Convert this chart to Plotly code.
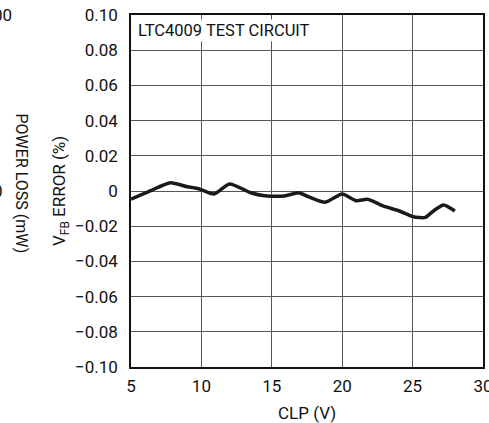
import plotly.graph_objects as go

# values
clp_v = [5.0, 6.4, 7.8, 9.0, 9.8, 10.9, 12.0, 13.5, 14.5, 15.9, 16.9, 17.6,
         18.8, 20.0, 21.0, 21.8, 22.9, 24.1, 25.05, 25.9, 26.5, 27.2, 28.0]
vfb_error = [-0.0047, 0.0002, 0.0047, 0.0024, 0.0013, -0.0017, 0.0040, -0.0010,
             -0.0027, -0.0028, -0.0010, -0.0032, -0.0064, -0.0017, -0.0055,
             -0.0047, -0.0085, -0.0115, -0.0146, -0.0150, -0.0112, -0.0080, -0.0114]

x_ticks = [5, 10, 15, 20, 25, 30]
y_ticks = [0.10, 0.08, 0.06, 0.04, 0.02, 0, -0.02, -0.04, -0.06, -0.08, -0.10]
y_tick_text = ["0.10", "0.08", "0.06", "0.04", "0.02", "0", "\u22120.02",
               "\u22120.04", "\u22120.06", "\u22120.08", "\u22120.10"]

FONT = "Roboto, Liberation Sans, sans-serif"
W, H = 489, 423
L, R, T, B = 131, 6, 15, 56
plot_w = W - L - R
plot_h = H - T - B


def px_x(px):
    # pixel column -> paper x
    return (px - L) / plot_w


def px_y(py):
    # pixel row -> paper y
    return (H - B - py) / plot_h


fig = go.Figure()

fig.add_trace(go.Scatter(
    x=clp_v,
    y=vfb_error,
    mode="lines",
    line=dict(color="#1a1a1a", width=3.5, shape="spline", smoothing=0.6),
    hoverinfo="skip",
    showlegend=False,
))

fig.update_layout(
    width=W,
    height=H,
    margin=dict(l=L, r=R, t=T, b=B),
    paper_bgcolor="white",
    plot_bgcolor="white",
    font=dict(family=FONT, size=17, color="#111"),
    showlegend=False,
    xaxis=dict(
        range=[5, 30],
        tickvals=x_ticks,
        ticks="",
        showgrid=True,
        gridcolor="#555",
        gridwidth=1,
        showline=True,
        mirror=True,
        linecolor="#111",
        linewidth=1.5,
        zeroline=False,
        automargin=False,
        ticklabelstandoff=3,
        ticklabeloverflow="allow",
    ),
    yaxis=dict(
        range=[-0.1, 0.1],
        tickvals=y_ticks,
        ticktext=y_tick_text,
        ticks="",
        showgrid=True,
        gridcolor="#555",
        gridwidth=1,
        showline=True,
        mirror=True,
        linecolor="#111",
        linewidth=1.5,
        zeroline=False,
        automargin=False,
        ticklabelstandoff=8,
    ),
)

annotations = [
    # inset label
    dict(text="LTC4009 TEST CIRCUIT", x=px_x(136), y=px_y(19),
         xref="paper", yref="paper", xanchor="left", yanchor="top",
         showarrow=False, bgcolor="white", font=dict(size=16.5)),
    # axis titles
    dict(text="CLP (V)", x=0.5, y=px_y(413),
         xref="paper", yref="paper", xanchor="center", yanchor="middle",
         showarrow=False, font=dict(size=17)),
    dict(text="V<sub>FB</sub> ERROR (%)", x=px_x(60), y=0.5,
         xref="paper", yref="paper", xanchor="center", yanchor="middle",
         textangle=-90, showarrow=False, font=dict(size=17)),
    # remnants of the neighbouring chart on the left
    dict(text="POWER LOSS (mW)", x=px_x(21), y=px_y(183.5),
         xref="paper", yref="paper", xanchor="center", yanchor="middle",
         textangle=90, showarrow=False, font=dict(size=16)),
    dict(text="00", x=px_x(14), y=0.1, xref="paper", yref="y",
         xanchor="right", yanchor="middle", showarrow=False, font=dict(size=17)),
    dict(text="0", x=px_x(5), y=0.0, xref="paper", yref="y",
         xanchor="right", yanchor="middle", showarrow=False, font=dict(size=17)),
]
fig.update_layout(annotations=annotations)

# drop the browser's default body margin so the figure sits at the page corner
fig.write_html(
    "out.html",
    config={"displayModeBar": False},
    post_script="document.body.style.margin='0';",
)
